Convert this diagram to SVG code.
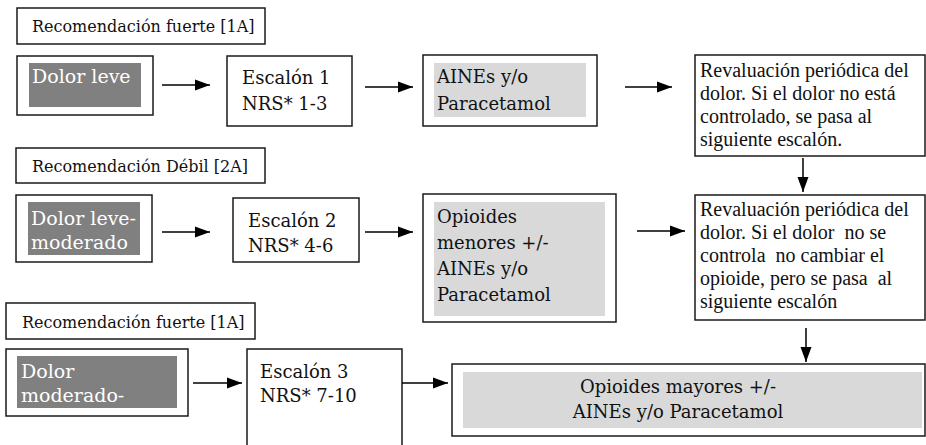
<svg xmlns="http://www.w3.org/2000/svg" width="926" height="445" viewBox="0 0 926 445">
<defs>
<style>
.box{fill:#fff;stroke:#1a1a1a;stroke-width:1.5}
.dark{fill:#808080}
.light{fill:#d9d9d9}
.c{font-family:"DejaVu Serif","Liberation Serif",serif;font-size:18px;fill:#111}
.lab{font-family:"DejaVu Serif","Liberation Serif",serif;font-size:16px;fill:#111}
.w{font-family:"DejaVu Serif","Liberation Serif",serif;font-size:19px;fill:#fff}
.t{font-family:"Liberation Serif","Times New Roman",serif;font-size:20px;fill:#111;white-space:pre}
.ln{stroke:#000;stroke-width:1.5;fill:none}
</style>
<marker id="ah" markerUnits="userSpaceOnUse" markerWidth="16" markerHeight="12" refX="15" refY="6" orient="auto">
<path d="M0,0.5 L15,6 L0,11.5 z" fill="#000"/>
</marker>
</defs>
<rect width="926" height="445" fill="#fff"/>

<g id="label1"><rect class="box" x="17" y="8" width="248" height="36"/><text class="lab" x="32" y="32">Recomendación fuerte [1A]</text></g>
<g id="dolor-leve"><rect class="box" x="17" y="56" width="136" height="59"/><rect class="dark" x="29" y="63" width="112" height="44"/><text class="w" x="32" y="83">Dolor leve</text></g>
<g id="escalon1"><rect class="box" x="227" y="56" width="125" height="70"/><text class="c" x="242" y="84">Escalón 1</text><text class="c" x="242" y="110">NRS* 1-3</text></g>
<g id="aines1"><rect class="box" x="423" y="55" width="174" height="71"/><rect class="light" x="434" y="63" width="152" height="54"/><text class="c" x="437" y="83">AINEs y/o</text><text class="c" x="437" y="110">Paracetamol</text></g>
<g id="reval1"><rect class="box" x="695" y="55" width="230" height="101"/><text class="t" x="700" y="77" xml:space="preserve">Revaluación periódica del</text><text class="t" x="700" y="100" xml:space="preserve">dolor. Si el dolor no está</text><text class="t" x="700" y="123" xml:space="preserve">controlado, se pasa al</text><text class="t" x="700" y="146" xml:space="preserve">siguiente escalón.</text></g>

<g id="label2"><rect class="box" x="16" y="148" width="249" height="35"/><text class="lab" x="32" y="172">Recomendación Débil [2A]</text></g>
<g id="dolor-leve-moderado"><rect class="box" x="16" y="195" width="136" height="67"/><rect class="dark" x="28" y="202" width="112" height="53"/><text class="w" x="31" y="225">Dolor leve-</text><text class="w" x="31" y="249">moderado</text></g>
<g id="escalon2"><rect class="box" x="233" y="198" width="126" height="64"/><text class="c" x="248" y="227">Escalón 2</text><text class="c" x="248" y="252">NRS* 4-6</text></g>
<g id="opioides-menores"><rect class="box" x="423" y="194" width="193" height="128"/><rect class="light" x="434" y="202" width="171" height="114"/><text class="c" x="437" y="223">Opioides</text><text class="c" x="437" y="249">menores +/-</text><text class="c" x="437" y="275">AINEs y/o</text><text class="c" x="437" y="301">Paracetamol</text></g>
<g id="reval2"><rect class="box" x="695" y="195" width="230" height="125"/><text class="t" x="700" y="216" xml:space="preserve">Revaluación periódica del</text><text class="t" x="700" y="239" xml:space="preserve">dolor. Si el dolor  no se</text><text class="t" x="700" y="262" xml:space="preserve">controla  no cambiar el</text><text class="t" x="700" y="285" xml:space="preserve">opioide, pero se pasa  al</text><text class="t" x="700" y="308" xml:space="preserve">siguiente escalón</text></g>

<g id="label3"><rect class="box" x="6" y="303" width="249" height="36"/><text class="lab" x="22" y="328">Recomendación fuerte [1A]</text></g>
<g id="dolor-moderado"><rect class="box" x="6" y="349" width="182" height="67"/><rect class="dark" x="17" y="356" width="160" height="52"/><text class="w" x="21" y="378">Dolor</text><text class="w" x="21" y="402">moderado-</text></g>
<g id="escalon3"><path class="box" d="M247,450 V349 H402 V450"/><text class="c" x="260" y="378">Escalón 3</text><text class="c" x="260" y="402">NRS* 7-10</text></g>
<g id="opioides-mayores"><rect class="box" x="452" y="364" width="473" height="72"/><rect class="light" x="463" y="372" width="459" height="56"/><text class="c" x="678" y="393" text-anchor="middle">Opioides mayores +/-</text><text class="c" x="678" y="418" text-anchor="middle">AINEs y/o Paracetamol</text></g>

<g id="connectors" class="ln" marker-end="url(#ah)">
<line x1="162" y1="85" x2="210" y2="85"/>
<line x1="365" y1="87" x2="413" y2="87"/>
<line x1="625" y1="87" x2="672" y2="87"/>
<line x1="803" y1="158" x2="803" y2="192"/>
<line x1="162" y1="232" x2="210" y2="232"/>
<line x1="365" y1="232" x2="413" y2="232"/>
<line x1="637" y1="231" x2="685" y2="231"/>
<line x1="806" y1="328" x2="806" y2="362"/>
<line x1="193" y1="383" x2="242" y2="383"/>
<line x1="402" y1="383" x2="448" y2="383"/>
</g>
</svg>
